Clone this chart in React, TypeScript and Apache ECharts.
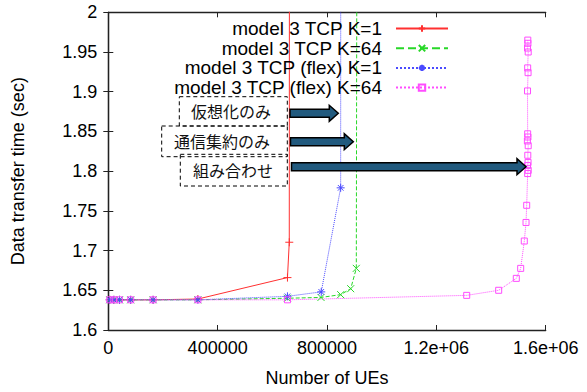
import React, { useEffect, useRef } from "react";
import * as echarts from "echarts";

const seriesNames = [
  "model 3 TCP K=1",
  "model 3 TCP K=64",
  "model 3 TCP (flex) K=1",
  "model 3 TCP (flex) K=64",
];

const lowX = [5120, 20480, 40960, 81920, 163840, 327680];

const redX = [...lowX, 655360, 662000, 663000];
const redY = [1.638, 1.638, 1.638, 1.638, 1.638, 1.639, 1.666, 1.7105, 2.4];

const greenX = [...lowX, 655360, 778000, 850000, 886700, 907200, 910800];
const greenY = [1.638, 1.638, 1.638, 1.638, 1.638, 1.638, 1.64, 1.641, 1.6445, 1.652, 1.6776, 2.4];

const blueX = [...lowX, 655360, 779000, 850000, 850500];
const blueY = [1.638, 1.638, 1.638, 1.638, 1.638, 1.638, 1.6424, 1.648, 1.779, 2.4];

const magX = [
  ...lowX, 655360, 1311000, 1428000, 1492500, 1508500, 1521700, 1528000, 1530500,
  1534000, 1536000, 1533500, 1535500, 1534500, 1536000, 1533000, 1535000,
  1534000, 1533500, 1535500, 1534000, 1536000, 1533500, 1535000, 1534500,
];
const magY = [
  1.638, 1.638, 1.638, 1.638, 1.638, 1.638, 1.638, 1.6436, 1.65, 1.665, 1.6776, 1.712, 1.7354, 1.757,
  1.797, 1.801, 1.807, 1.811, 1.82, 1.832, 1.838, 1.843,
  1.847, 1.901, 1.924, 1.93, 1.95, 1.955, 1.961, 1.965,
];

const xTicks = [0, 400000, 800000, 1200000, 1600000];
const yMin = 1.6;
const yMax = 2;

const boxLabels = ["仮想化のみ", "通信集約のみ", "組み合わせ"];

const zip = (xs: number[], ys: number[]) => xs.map((x, i) => [x, ys[i]]);

const FONT = "Liberation Sans, Arial, Helvetica, sans-serif";

function arrow(x0: number, x1: number, yc: number) {
  const sh = 4;
  const hh = 8;
  const hl = 9;
  return {
    type: "polygon",
    shape: {
      points: [
        [x0, yc - sh],
        [x1 - hl, yc - sh],
        [x1 - hl, yc - hh],
        [x1, yc],
        [x1 - hl, yc + hh],
        [x1 - hl, yc + sh],
        [x0, yc + sh],
      ],
    },
    style: { fill: "#215a7e", stroke: "#000", lineWidth: 1.5 },
    z: 100,
  };
}

function box(x: number, y: number, w: number, h: number, text: string, cx: number) {
  return [
    {
      type: "rect",
      shape: { x, y, width: w, height: h },
      style: { fill: "none", stroke: "#000", lineWidth: 1, lineDash: [4, 3] },
      z: 100,
    },
    {
      type: "text",
      x: cx,
      y: y + h / 2,
      style: {
        text,
        fill: "#111",
        font: '16px "Noto Sans CJK JP"',
        align: "center",
        verticalAlign: "middle",
      },
      z: 101,
    },
  ];
}

export default function App() {
  const ref = useRef<HTMLDivElement>(null);
  useEffect(() => {
    if (!ref.current) return;
    const chart = echarts.init(ref.current, null, { renderer: "svg" });
    const xFmt = (v: number) => {
      if (v === 0) return "0";
      if (v >= 1e6) return (v / 1e6).toFixed(1) + "e+06";
      return String(v);
    };
    const yFmt = (v: number) => String(parseFloat(v.toFixed(2)));
    const axisLine = { show: true, lineStyle: { color: "#222", width: 1.3 } };
    const axisTick = { show: true, inside: true, length: 5, lineStyle: { color: "#222", width: 1 } };
    const mk = (name: string, data: number[][], color: string, lineType: any, symbol: string, size: number, fill: string) => ({
      name,
      type: "line",
      data,
      symbol,
      symbolSize: size,
      showSymbol: true,
      clip: true,
      lineStyle: { color, width: 1, type: lineType },
      itemStyle: { color: fill, borderColor: color, borderWidth: 1 },
      emphasis: { disabled: true },
    });
    const plus = "path://M0,5H10M5,0V10";
    const cross = "path://M1,1L9,9M9,1L1,9";
    const star = "path://M0,5H10M5,0V10M1.5,1.5L8.5,8.5M8.5,1.5L1.5,8.5";
    chart.setOption({
      animation: false,
      textStyle: { fontFamily: FONT },
      grid: { left: 108.3, right: 41.3, top: 12.3, bottom: 59.3 },
      legend: {
        orient: "vertical",
        align: "right",
        right: 138,
        top: 19,
        padding: 0,
        itemWidth: 52,
        itemHeight: 8,
        itemGap: 0.7,
        textStyle: { fontSize: 19, color: "#000", fontFamily: FONT, lineHeight: 18, padding: [0, 9, 0, 0] },
        data: seriesNames,
      },
      xAxis: [
        {
          type: "value",
          min: xTicks[0],
          max: xTicks[xTicks.length - 1],
          interval: xTicks[1] - xTicks[0],
          name: "Number of UEs",
          nameLocation: "middle",
          nameGap: 39,
          nameTextStyle: { fontSize: 18, color: "#000", fontFamily: FONT },
          axisLine,
          axisTick,
          splitLine: { show: false },
          axisLabel: { fontSize: 18, color: "#000", margin: 9, formatter: xFmt, fontFamily: FONT },
        },
        {
          type: "value",
          position: "top",
          min: xTicks[0],
          max: xTicks[xTicks.length - 1],
          interval: xTicks[1] - xTicks[0],
          axisLine,
          axisTick,
          splitLine: { show: false },
          axisLabel: { show: false },
        },
      ],
      yAxis: [
        {
          type: "value",
          min: yMin,
          max: yMax,
          interval: 0.05,
          name: "Data transfer time (sec)",
          nameLocation: "middle",
          nameGap: 81,
          nameTextStyle: { fontSize: 18, color: "#000", fontFamily: FONT },
          axisLine,
          axisTick,
          splitLine: { show: false },
          axisLabel: { fontSize: 18, color: "#000", margin: 11, formatter: yFmt, fontFamily: FONT },
        },
        {
          type: "value",
          position: "right",
          min: yMin,
          max: yMax,
          interval: 0.05,
          axisLine,
          axisTick,
          splitLine: { show: false },
          axisLabel: { show: false },
        },
      ],
      series: [
        mk(seriesNames[0], zip(redX, redY), "#ff3030", "solid", plus, 8, "#ff3030"),
        mk(seriesNames[1], zip(greenX, greenY), "#28d828", "dashed", cross, 7, "#28d828"),
        mk(seriesNames[2], zip(blueX, blueY), "#4a4aff", "dotted", star, 8, "#4a4aff"),
        mk(seriesNames[3], zip(magX, magY), "#ff4cff", "dotted", "rect", 6, "rgba(255,255,255,0)"),
      ],
      graphic: [
        ...box(179.3, 96.7, 108, 29.3, boxLabels[0], 231),
        ...box(161.7, 126, 125.6, 30.7, boxLabels[1], 222),
        ...box(180.3, 154.3, 107, 31.7, boxLabels[2], 233),
        arrow(290, 338.3, 113.3),
        arrow(290.5, 353.3, 141.7),
        arrow(291.5, 526, 166.7),
      ],
    });
    return () => chart.dispose();
  }, []);
  return (
    <div
      ref={ref}
      style={{ position: "fixed", left: 0, top: 0, width: 587, height: 392, background: "#fff" }}
    />
  );
}
